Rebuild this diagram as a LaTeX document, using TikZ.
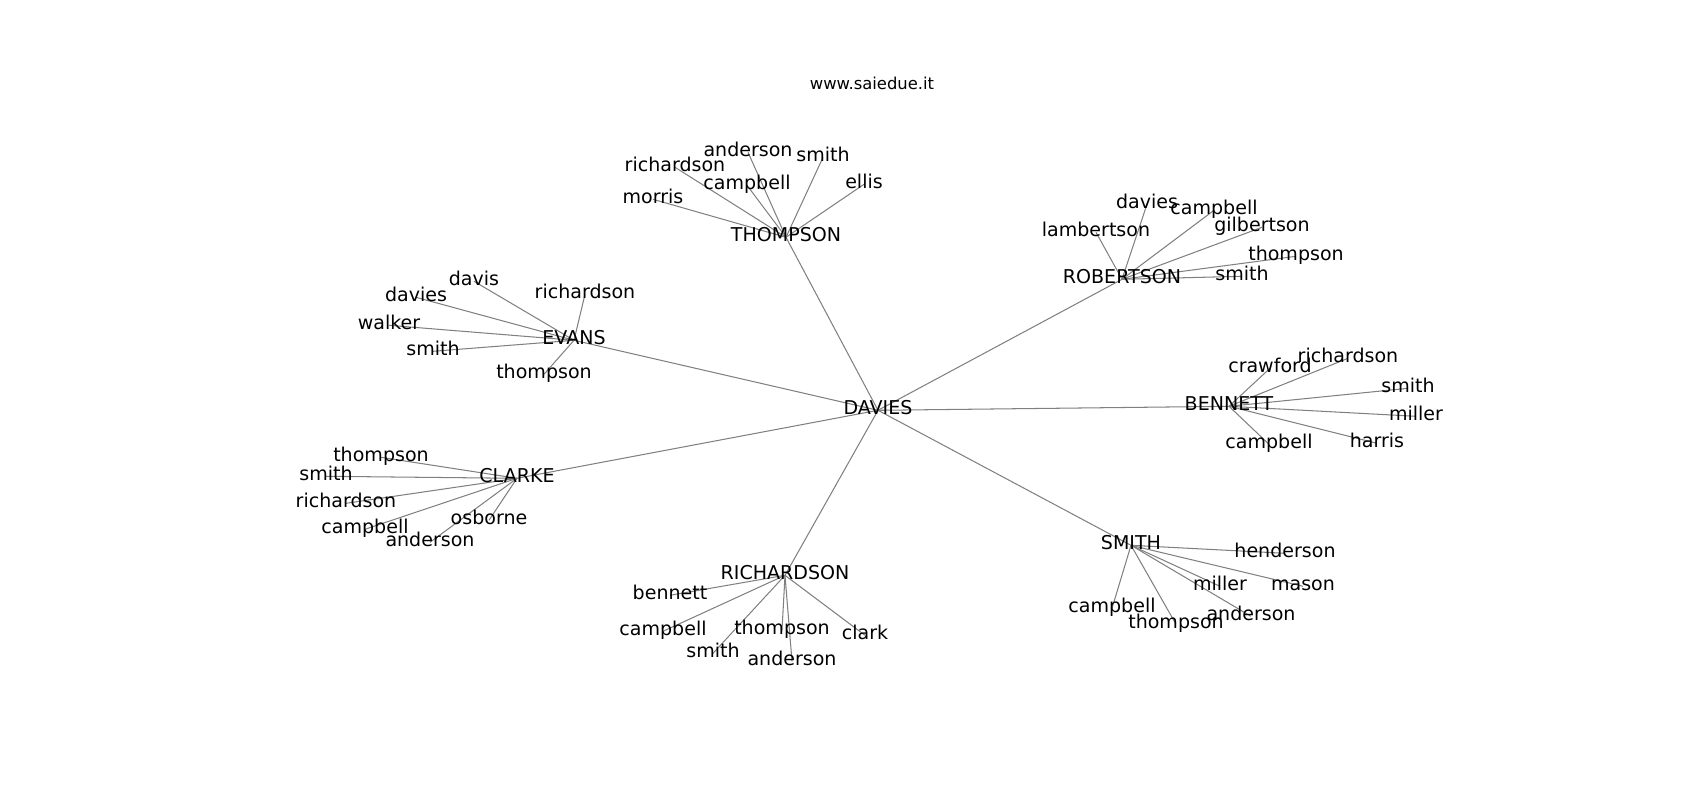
\documentclass[tikz,border=0pt]{standalone}
\usepackage{fontspec}
\setmainfont{DejaVu Sans}
\usetikzlibrary{backgrounds}
\begin{document}
\begin{tikzpicture}[x=0.01in,y=-0.01in,
  lbl/.style={inner sep=0pt,outer sep=0pt,anchor=center,text height=0.76em,text depth=0.21em,font=\fontsize{13.7bp}{16bp}\selectfont},
  ttl/.style={inner sep=0pt,anchor=center,text height=0.76em,text depth=0.21em,font=\fontsize{11.8bp}{14bp}\selectfont},
  edge/.style={draw=black!50,line width=0.75pt}]
\useasboundingbox (0,-3.3) rectangle (1700,796.7);
\node[ttl] (title) at (872,82) {www.saiedue.it};
% hubs
\node[lbl] (D) at (878,407) {DAVIES};
\node[lbl] (T) at (786,234) {THOMPSON};
\node[lbl] (R) at (1122,276) {ROBERTSON};
\node[lbl] (E) at (574,337) {EVANS};
\node[lbl] (B) at (1229,403) {BENNETT};
\node[lbl] (C) at (517,475) {CLARKE};
\node[lbl] (S) at (1131,542) {SMITH};
\node[lbl] (RI) at (785,572) {RICHARDSON};
% THOMPSON leaves
\node[lbl] (t1) at (748,149) {anderson};
\node[lbl] (t2) at (675,164) {richardson};
\node[lbl] (t3) at (747,182) {campbell};
\node[lbl] (t4) at (823,154) {smith};
\node[lbl] (t5) at (864,181) {ellis};
\node[lbl] (t6) at (653,196) {morris};
% ROBERTSON leaves
\node[lbl] (r1) at (1147,201) {davies};
\node[lbl] (r2) at (1214,207) {campbell};
\node[lbl] (r3) at (1096,229) {lambertson};
\node[lbl] (r4) at (1262,224) {gilbertson};
\node[lbl] (r5) at (1296,253) {thompson};
\node[lbl] (r6) at (1242,273) {smith};
% EVANS leaves
\node[lbl] (e1) at (474,278) {davis};
\node[lbl] (e2) at (416,294) {davies};
\node[lbl] (e3) at (585,291) {richardson};
\node[lbl] (e4) at (389,322) {walker};
\node[lbl] (e5) at (433,348) {smith};
\node[lbl] (e6) at (544,371) {thompson};
% BENNETT leaves
\node[lbl] (b1) at (1270,365) {crawford};
\node[lbl] (b2) at (1348,355) {richardson};
\node[lbl] (b3) at (1408,385) {smith};
\node[lbl] (b4) at (1416,413) {miller};
\node[lbl] (b5) at (1377,440) {harris};
\node[lbl] (b6) at (1269,441) {campbell};
% CLARKE leaves
\node[lbl] (c1) at (381,454) {thompson};
\node[lbl] (c2) at (326,473) {smith};
\node[lbl] (c3) at (346,500) {richardson};
\node[lbl] (c4) at (365,526) {campbell};
\node[lbl] (c5) at (430,539) {anderson};
\node[lbl] (c6) at (489,517) {osborne};
% RICHARDSON leaves
\node[lbl] (h1) at (670,592) {bennett};
\node[lbl] (h2) at (663,628) {campbell};
\node[lbl] (h3) at (782,627) {thompson};
\node[lbl] (h4) at (865,632) {clark};
\node[lbl] (h5) at (713,650) {smith};
\node[lbl] (h6) at (792,658) {anderson};
% SMITH leaves
\node[lbl] (s1) at (1285,550) {henderson};
\node[lbl] (s2) at (1303,583) {mason};
\node[lbl] (s3) at (1220,583) {miller};
\node[lbl] (s4) at (1251,613) {anderson};
\node[lbl] (s5) at (1112,605) {campbell};
\node[lbl] (s6) at (1176,621) {thompson};
\begin{pgfonlayer}{background}
\foreach \h in {T,R,E,B,C,S,RI} \draw[edge] (D.center) -- (\h.center);
\foreach \l in {t1,t2,t3,t4,t5,t6} \draw[edge] (T.center) -- (\l.center);
\foreach \l in {r1,r2,r3,r4,r5,r6} \draw[edge] (R.center) -- (\l.center);
\foreach \l in {e1,e2,e3,e4,e5,e6} \draw[edge] (E.center) -- (\l.center);
\foreach \l in {b1,b2,b3,b4,b5,b6} \draw[edge] (B.center) -- (\l.center);
\foreach \l in {c1,c2,c3,c4,c5,c6} \draw[edge] (C.center) -- (\l.center);
\foreach \l in {h1,h2,h3,h4,h5,h6} \draw[edge] (RI.center) -- (\l.center);
\foreach \l in {s1,s2,s3,s4,s5,s6} \draw[edge] (S.center) -- (\l.center);
\end{pgfonlayer}
\end{tikzpicture}
\end{document}
